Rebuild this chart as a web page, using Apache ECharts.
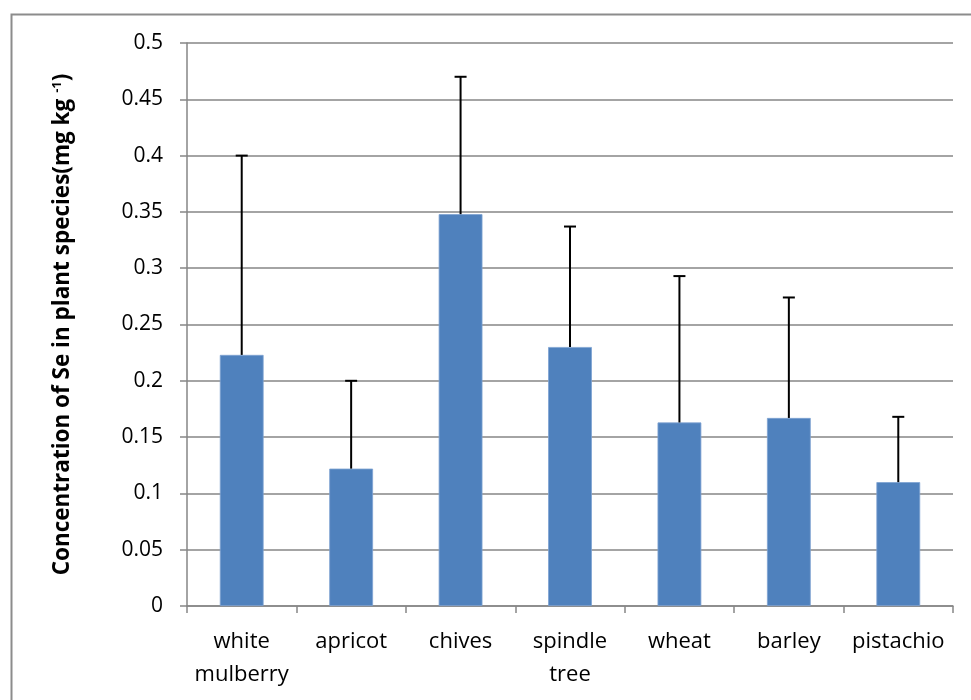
<!DOCTYPE html>
<html>
<head>
<meta charset="utf-8">
<script src="https://cdn.jsdelivr.net/npm/echarts@6/dist/echarts.min.js"></script>
<style>html,body{margin:0;padding:0;background:#fff;}#c{width:971px;height:700px;}</style>
</head>
<body>
<div id="c"></div>
<script>
const categories = ['white\nmulberry', 'apricot', 'chives', 'spindle\ntree', 'wheat', 'barley', 'pistachio'];
const meanValues = [0.223, 0.122, 0.348, 0.230, 0.163, 0.167, 0.110];
const upperValues = [0.400, 0.200, 0.470, 0.337, 0.293, 0.274, 0.168];
const yTicks = [0, 0.05, 0.1, 0.15, 0.2, 0.25, 0.3, 0.35, 0.4, 0.45, 0.5];

const FONT = '"Open Sans", "Noto Sans", sans-serif';
const chart = echarts.init(document.getElementById('c'));
const errData = categories.map((c, i) => [i, meanValues[i], upperValues[i]]);

chart.setOption({
  animation: false,
  backgroundColor: '#fff',
  graphic: [{
    type: 'rect', left: 9, top: 12,
    shape: { x: 0, y: 0, width: 1000, height: 1000 },
    style: { fill: 'none', stroke: '#8c8c8c', lineWidth: 2 },
    silent: true, z: -10
  }],
  grid: { left: 187, right: 18, top: 43, bottom: 94, containLabel: false },
  xAxis: {
    type: 'category',
    data: categories,
    axisLine: { show: true, lineStyle: { color: '#868686', width: 1.5 } },
    axisTick: { show: true, alignWithLabel: false, length: 7, lineStyle: { color: '#868686', width: 1.5 } },
    axisLabel: { interval: 0, hideOverlap: false, color: '#000', fontFamily: FONT, fontSize: 22, lineHeight: 33, margin: 19 }
  },
  yAxis: {
    type: 'value',
    min: 0, max: 0.5, interval: 0.05,
    name: 'Concentration of Se in plant species(mg kg {sup|-1})',
    nameLocation: 'middle',
    nameGap: 113,
    nameTextStyle: {
      color: '#000', fontFamily: FONT, fontSize: 22.5, fontWeight: 'bold',
      rich: { sup: { fontSize: 13, fontWeight: 'bold', fontFamily: FONT, verticalAlign: 'top', padding: [0, 0, 10, 0] } }
    },
    axisLine: { show: true, lineStyle: { color: '#868686', width: 1.5 } },
    axisTick: { show: true, length: 7, lineStyle: { color: '#868686', width: 1.5 } },
    axisLabel: {
      color: '#000', fontFamily: FONT, fontSize: 21, margin: 24,
      formatter: v => { const t = yTicks.find(x => Math.abs(x - v) < 1e-9); return t === undefined ? '' : String(t); }
    },
    splitLine: { show: true, lineStyle: { color: '#868686', width: 1.5 } }
  },
  series: [
    {
      type: 'bar',
      data: meanValues,
      barWidth: '40%',
      itemStyle: { color: '#4F81BD', borderColor: '#7da2d2', borderWidth: 0.8 },
      z: 2
    },
    {
      type: 'custom',
      data: errData,
      z: 3,
      renderItem: function (params, api) {
        const x = api.value(0);
        const lo = api.coord([x, api.value(1)]);
        const hi = api.coord([x, api.value(2)]);
        const half = 6;
        return {
          type: 'group',
          children: [
            { type: 'line', shape: { x1: lo[0], y1: lo[1], x2: hi[0], y2: hi[1] }, style: { stroke: '#000', lineWidth: 2 } },
            { type: 'line', shape: { x1: hi[0] - half, y1: hi[1], x2: hi[0] + half, y2: hi[1] }, style: { stroke: '#000', lineWidth: 2 } }
          ]
        };
      }
    }
  ]
});
</script>
</body>
</html>
